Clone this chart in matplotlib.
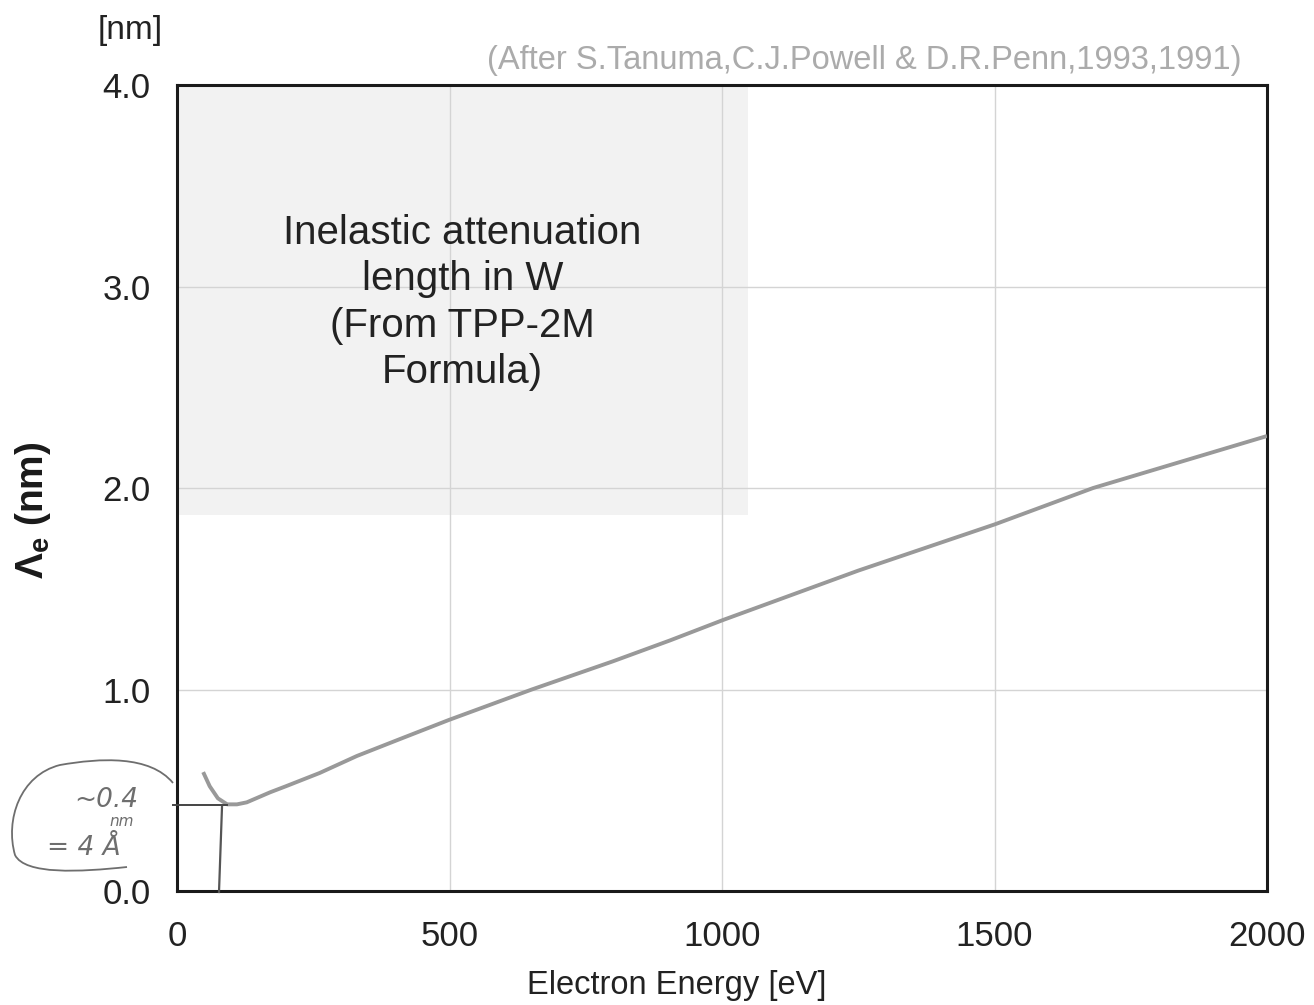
import numpy as np
import matplotlib
matplotlib.use('Agg')
import matplotlib.pyplot as plt
from matplotlib.patches import Rectangle, PathPatch
from matplotlib.path import Path
from matplotlib.lines import Line2D

plt.rcParams['font.family'] = ['Liberation Sans', 'DejaVu Sans']
plt.rcParams['mathtext.fontset'] = 'custom'
plt.rcParams['mathtext.rm'] = 'Liberation Sans'
plt.rcParams['mathtext.bf'] = 'Liberation Sans:bold'

# TPP-2M attenuation length for W
energy_ev = [48, 60, 75, 92, 110, 128, 171, 200, 262, 330, 409, 499,
             651, 800, 905, 1002, 1250, 1501, 1681, 2000]
atten_nm = [0.59, 0.52, 0.46, 0.43, 0.43, 0.44, 0.49, 0.52, 0.586, 0.67,
            0.754, 0.849, 1.00, 1.14, 1.244, 1.345, 1.59, 1.82, 2.00, 2.258]

x_ticks = [0, 500, 1000, 1500, 2000]
y_ticks = [0.0, 1.0, 2.0, 3.0, 4.0]
y_ticklabels = ['0.0', '1.0', '2.0', '3.0', '4.0']

W, H = 1314, 1005
fig = plt.figure(figsize=(W / 100, H / 100), dpi=100)


def px(x, y):
    # pixel position -> figure fraction
    return x / W, 1 - y / H


ax = fig.add_axes([177 / W, 1 - 891 / H, 1090 / W, 806 / H])
ax.set_xlim(0, 2000)
ax.set_ylim(0, 4.0)
ax.set_xticks(x_ticks)
ax.set_yticks(y_ticks)
ax.set_xticklabels([str(t) for t in x_ticks])
ax.set_yticklabels(y_ticklabels)
ax.tick_params(length=0, labelsize=25, colors='#222222')
ax.tick_params(axis='x', pad=21)
ax.tick_params(axis='y', pad=19)
ax.grid(True, color='#d4d4d4', linewidth=1.0, zorder=0)
for sp in ax.spines.values():
    sp.set_linewidth(2.2)
    sp.set_color('#1a1a1a')

# shaded caption box in the upper left
ax.add_patch(Rectangle((0, 0.466), 0.524, 0.534, transform=ax.transAxes,
                       facecolor='#f2f2f2', edgecolor='none', zorder=1))
ax.text(0.262, 0.730, 'Inelastic attenuation\nlength in W\n(From TPP-2M\nFormula)',
        transform=ax.transAxes, ha='center', va='center', fontsize=29,
        color='#222222', linespacing=1.28, zorder=2)

ax.plot(energy_ev, atten_nm, color='#999999', linewidth=2.8, zorder=3,
        solid_capstyle='butt')

# labels and credit
fig.text(*px(677, 985), 'Electron Energy [eV]', ha='center', va='center',
         fontsize=23.5, color='#222222')
fig.text(*px(130, 30), '[nm]', ha='center', va='center', fontsize=24, color='#222222')
fig.text(*px(864, 60), '(After S.Tanuma,C.J.Powell & D.R.Penn,1993,1991)',
         ha='center', va='center', fontsize=23.5, color='#ababab')
fig.text(*px(33, 510), r'Λ$_{\mathbf{e}}$ (nm)', rotation=90, ha='center', va='center',
         fontsize=28, fontweight='bold', color='#1a1a1a')

# pencil notes near the minimum
pen = '#6e6e6e'
loop = Path([px(173, 783), px(150, 755), px(100, 758), px(60, 765),
             px(20, 775), px(5, 820), px(15, 855),
             px(25, 875), px(80, 872), px(127, 867)],
            [Path.MOVETO, Path.CURVE4, Path.CURVE4, Path.CURVE4,
             Path.CURVE4, Path.CURVE4, Path.CURVE4,
             Path.CURVE4, Path.CURVE4, Path.CURVE4])
fig.add_artist(PathPatch(loop, facecolor='none', edgecolor=pen, linewidth=1.3,
                         transform=fig.transFigure))
hx, hy = zip(*[px(173, 805), px(227, 805)])
fig.add_artist(Line2D(hx, hy, color='#444444', linewidth=1.4))
vx, vy = zip(*[px(222, 807), px(219, 892)])
fig.add_artist(Line2D(vx, vy, color='#555555', linewidth=1.6))
fig.text(*px(106, 800), '~0.4', ha='center', va='center', fontsize=19,
         style='italic', color=pen, family='DejaVu Sans')
fig.text(*px(122, 821), 'nm', ha='center', va='center', fontsize=11,
         style='italic', color=pen, family='DejaVu Sans')
fig.text(*px(84, 848), '= 4 Å', ha='center', va='center', fontsize=19,
         style='italic', color=pen, family='DejaVu Sans')

fig.savefig('out.png', dpi=100)
